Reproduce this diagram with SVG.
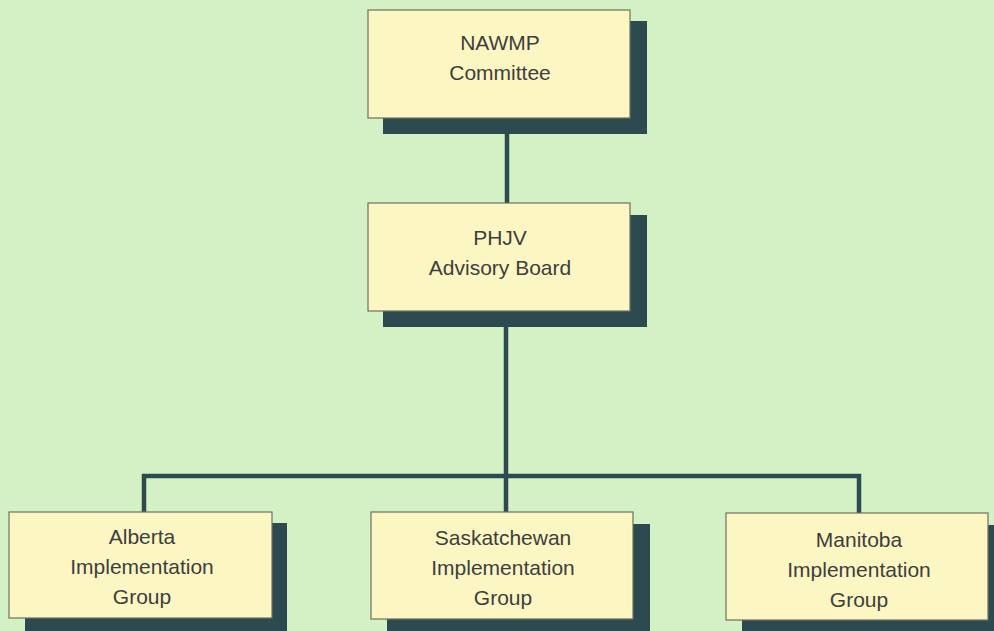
<svg xmlns="http://www.w3.org/2000/svg" width="994" height="631" viewBox="0 0 994 631">
<style>
.shadow{fill:#2c4a4f}
.box{fill:#fcf6c2;stroke:#6f6f62;stroke-width:1.2}
.lbl{font-family:"Liberation Sans",Arial,sans-serif;font-size:21px;fill:#3e3e3e;text-anchor:middle}
.conn{stroke:#2c4a4f;stroke-width:4.5;fill:none}
</style>
<rect width="994" height="631" fill="#d4f1c5"/>
<g id="connectors">
<line class="conn" x1="507" y1="134" x2="507" y2="203"/>
<line class="conn" x1="506" y1="327" x2="506" y2="512"/>
<polyline class="conn" points="144,512 144,476 859,476 859,513"/>
</g>
<g id="nawmp">
<rect class="shadow" x="383" y="21" width="264" height="113"/>
<rect class="box" x="368" y="10" width="262" height="108"/>
<text class="lbl" x="500" y="50">NAWMP</text>
<text class="lbl" x="500" y="80">Committee</text>
</g>
<g id="phjv">
<rect class="shadow" x="383" y="215" width="264" height="112"/>
<rect class="box" x="368" y="203" width="262" height="108"/>
<text class="lbl" x="500" y="245">PHJV</text>
<text class="lbl" x="500" y="275">Advisory Board</text>
</g>
<g id="alberta">
<rect class="shadow" x="25" y="523" width="262" height="120"/>
<rect class="box" x="9" y="512" width="263" height="106"/>
<text class="lbl" x="142" y="544">Alberta</text>
<text class="lbl" x="142" y="574">Implementation</text>
<text class="lbl" x="142" y="604">Group</text>
</g>
<g id="saskatchewan">
<rect class="shadow" x="387" y="524" width="263" height="120"/>
<rect class="box" x="371" y="512" width="262" height="107"/>
<text class="lbl" x="503" y="545">Saskatchewan</text>
<text class="lbl" x="503" y="575">Implementation</text>
<text class="lbl" x="503" y="605">Group</text>
</g>
<g id="manitoba">
<rect class="shadow" x="742" y="525" width="263" height="120"/>
<rect class="box" x="726" y="513" width="262" height="107"/>
<text class="lbl" x="859" y="547">Manitoba</text>
<text class="lbl" x="859" y="577">Implementation</text>
<text class="lbl" x="859" y="607">Group</text>
</g>
</svg>
